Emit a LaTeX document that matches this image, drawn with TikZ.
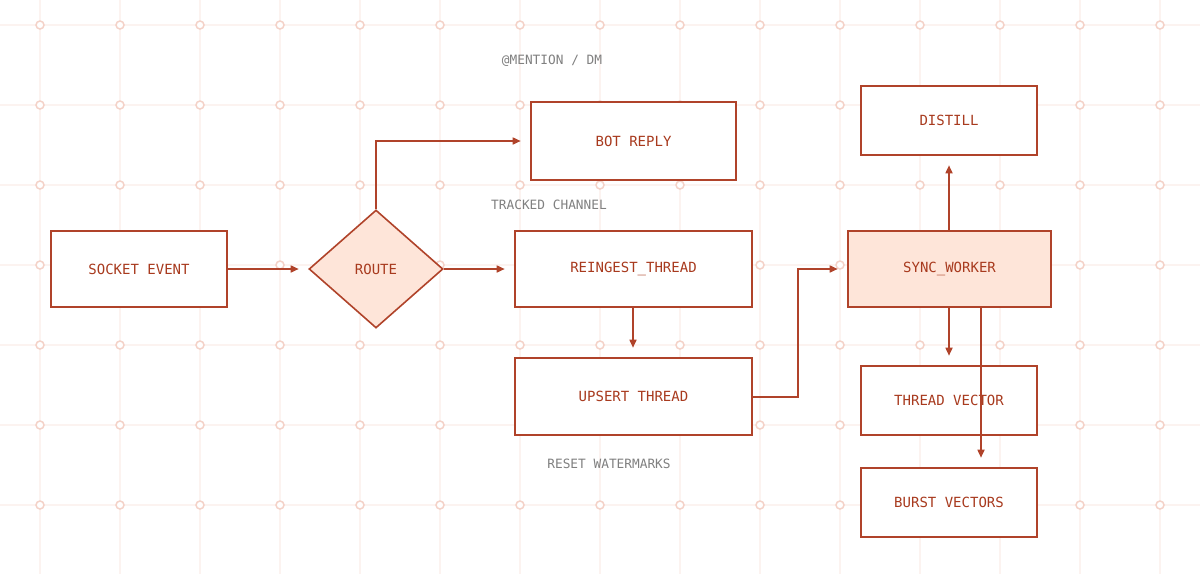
\documentclass[tikz,border=0pt]{standalone}
\usepackage{fontspec}
\setmonofont{DejaVu Sans Mono}
\usetikzlibrary{arrows.meta,shapes.geometric,calc}
\definecolor{rust}{HTML}{B0432A}
\definecolor{rusttext}{HTML}{A83A1E}
\definecolor{peach}{HTML}{FEE5D9}
\definecolor{gridline}{HTML}{FCF3F0}
\definecolor{griddot}{HTML}{F4D2C8}
\definecolor{labelgray}{HTML}{808080}
\tikzset{
  boxnode/.style={draw=rust, line width=1.6pt, fill=white, text=rusttext, font=\ttfamily\fontsize{14}{16}\selectfont, inner sep=0pt},
  hotbox/.style={boxnode, fill=peach},
  decide/.style={draw=rust, line width=1.6pt, fill=peach, text=rusttext, font=\ttfamily\fontsize{14}{16}\selectfont, shape=diamond, inner sep=0pt, minimum width=134pt, minimum height=118pt},
  edgelabel/.style={text=labelgray, font=\ttfamily\fontsize{12.8}{15}\selectfont, inner sep=0pt},
  flow/.style={draw=rust, line width=1.6pt, -{Triangle[length=8pt,width=7pt]}, shorten >=9.5pt},
}
\begin{document}
\begin{tikzpicture}[x=1pt,y=-1pt]
\useasboundingbox (0,0) rectangle (1200,574);
\fill[white] (0,0) rectangle (1200,574);
% grid
\foreach \gx in {40,120,...,1160} \draw[gridline, line width=1.5pt] (\gx,0) -- (\gx,574);
\foreach \gy in {25,105,...,505} \draw[gridline, line width=1.5pt] (0,\gy) -- (1200,\gy);
\foreach \gx in {40,120,...,1160}
  \foreach \gy in {25,105,...,505}
    \draw[griddot, line width=1.5pt, fill=white] (\gx,\gy) circle (4pt);
% nodes
\node[boxnode, minimum width=176pt, minimum height=76pt] (socket) at (139,269) {SOCKET EVENT};
\node[decide] (route) at (376,269) {ROUTE};
\node[boxnode, minimum width=205pt, minimum height=78pt] (bot) at (633.5,141) {BOT REPLY};
\node[boxnode, minimum width=237pt, minimum height=76pt] (reingest) at (633.5,269) {REINGEST\_THREAD};
\node[boxnode, minimum width=237pt, minimum height=77pt] (upsert) at (633.5,396.5) {UPSERT THREAD};
\node[hotbox, minimum width=203pt, minimum height=76pt] (sync) at (949.5,269) {SYNC\_WORKER};
\node[boxnode, minimum width=176pt, minimum height=69pt] (distill) at (949,120.5) {DISTILL};
\node[boxnode, minimum width=176pt, minimum height=69pt] (tvec) at (949,400.5) {THREAD VECTOR};
\node[boxnode, minimum width=176pt, minimum height=69pt] (burst) at (949,502.5) {BURST VECTORS};
% labels
\node[edgelabel] (lmention) at (552,61) {@MENTION / DM};
\node[edgelabel] (ltracked) at (549,205) {TRACKED CHANNEL};
\node[edgelabel] (lreset) at (609,464) {RESET WATERMARKS};
% edges
\draw[flow] (socket.east) -- (route.west);
\draw[flow] (route.north) |- (bot.west);
\draw[flow] (route.east) -- (reingest.west);
\draw[flow] ($(reingest.south)+(-0.5,0)$) -- ($(upsert.north)+(-0.5,0)$);
\draw[flow] ($(upsert.east)+(0,0.5)$) -- ++(45,0) |- (sync.west);
\draw[flow] ($(sync.north)+(-0.5,0)$) -- (distill.south);
\draw[flow] ($(sync.south)+(-0.5,0)$) -- (tvec.north);
\coordinate (bend) at ([xshift=32pt]burst.north);
\draw[flow] (sync.south -| bend) -- (bend);
\end{tikzpicture}
\end{document}
